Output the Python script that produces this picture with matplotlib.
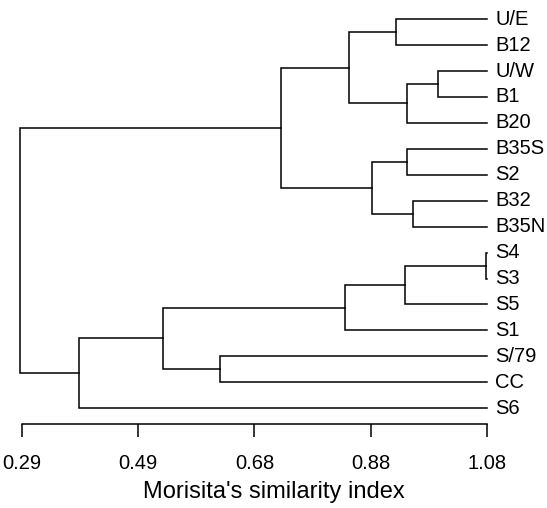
import matplotlib
matplotlib.use("Agg")
import matplotlib.pyplot as plt

plt.rcParams['font.family'] = ['Liberation Sans', 'DejaVu Sans']

# leaves from top to bottom
leaves = ["U/E", "B12", "U/W", "B1", "B20", "B35S", "S2", "B32", "B35N",
          "S4", "S3", "S5", "S1", "S/79", "CC", "S6"]
leaf_end = 1.08

# merges: (left child, right child, similarity); ints are leaf indices
m_ue_b12 = (0, 1, 0.925)
m_uw_b1 = (2, 3, 0.996)
m_b20 = (m_uw_b1, 4, 0.944)
m_u = (m_ue_b12, m_b20, 0.846)
m_b35s_s2 = (5, 6, 0.944)
m_b32_b35n = (7, 8, 0.953)
m_b = (m_b35s_s2, m_b32_b35n, 0.885)
m_top = (m_u, m_b, 0.730)
m_s4_s3 = (9, 10, 1.078)
m_s5 = (m_s4_s3, 11, 0.941)
m_s1 = (m_s5, 12, 0.838)
m_s79_cc = (13, 14, 0.626)
m_s = (m_s1, m_s79_cc, 0.530)
m_s6 = (m_s, 15, 0.388)
root = (m_top, m_s6, 0.287)

tick_vals = [0.29, 0.4875, 0.685, 0.8825, 1.08]
tick_labels = ["0.29", "0.49", "0.68", "0.88", "1.08"]

fig = plt.figure(figsize=(5.47, 5.08), dpi=100)
# axes bottom edge sits on the scale bar
ax = fig.add_axes([0, 1 - 424 / 508, 1, 424 / 508])

lw = 1.1


def draw(node):
    # returns (x, y) of the node
    if isinstance(node, int):
        return leaf_end, node
    left, right, h = node
    xl, yl = draw(left)
    xr, yr = draw(right)
    ax.plot([xl, h, h, xr], [yl, yl, yr, yr], color='black', lw=lw,
            solid_joinstyle='miter', clip_on=False)
    return h, (yl + yr) / 2


x0, y0 = draw(root)

for i, name in enumerate(leaves):
    ax.text(leaf_end + 0.0135, i, name, fontsize=14.5, va='center', ha='left')

ax.set_xlim(0.2534, 1.1811)
ax.set_ylim((424 - 19.2) / 25.93, -19.2 / 25.93)

for s in ['top', 'right', 'left']:
    ax.spines[s].set_visible(False)
ax.spines['bottom'].set_bounds(0.29, 1.08)
ax.spines['bottom'].set_linewidth(lw)
ax.set_yticks([])
ax.set_xticks(tick_vals)
ax.set_xticklabels(tick_labels)
ax.tick_params(axis='x', direction='out', length=9.4, width=lw,
               labelsize=14.5, pad=12)
ax.set_xlabel("Morisita's similarity index", fontsize=17, labelpad=6)
ax.patch.set_visible(False)

fig.savefig("out.png", dpi=100)
